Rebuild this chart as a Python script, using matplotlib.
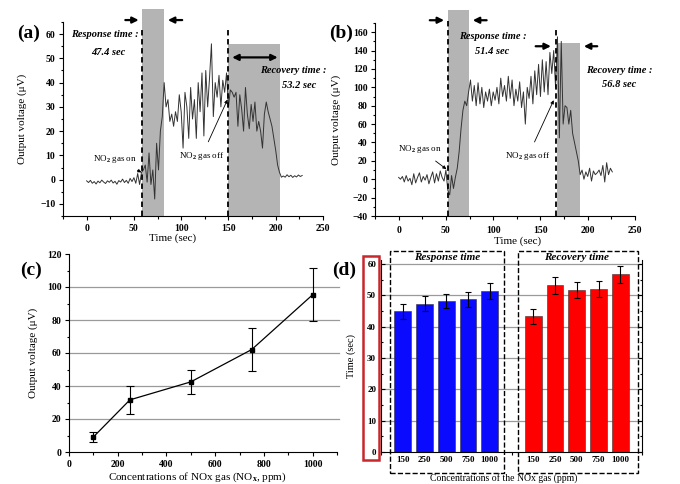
import numpy as np
import matplotlib
matplotlib.use('Agg')
import matplotlib.pyplot as plt
from matplotlib.patches import Rectangle
from matplotlib.ticker import MultipleLocator

plt.rcParams['font.family'] = ['Liberation Serif', 'DejaVu Serif']
plt.rcParams['font.weight'] = 'bold'
plt.rcParams['mathtext.fontset'] = 'custom'
plt.rcParams['mathtext.rm'] = 'Liberation Serif'
plt.rcParams['mathtext.it'] = 'Liberation Serif:italic'
plt.rcParams['mathtext.bf'] = 'Liberation Serif:bold'

# ---- data ----
# (a) 47.4 sec response, 2 s sampling
time_a = np.arange(0, 230, 2)
volt_a = [-0.5, -1.2, -0.3, -1.5, -0.8, -1.8, -0.6, -1.3, -0.2, -1.0, -1.6, -0.5, -1.1,
          -0.2, -1.4, -0.7, -1.9, -0.4, -1.0, 0.2, -1.2, -0.3, -1.5, 0.5, -0.8, 0.8,
          -1.5, 2.5, -2.0, 3.0,
          4.0, 6.0, -1.0, 11.0, -2.0, 4.0, -8.0, 15.0, 4.0, 20.0, 26.0, 40.0,
          30, 33, 24, 27, 22, 28, 24, 35, 28, 13, 36, 30, 17, 38, 25, 33, 17, 40, 28, 44,
          18, 45, 30, 42, 56, 26, 40, 34, 43, 30, 41, 36, 44, 30,
          37, 36, 34, 36, 22, 35, 29, 20, 38, 27, 21, 31, 24, 32, 20, 24, 20, 13, 27, 32,
          28, 25, 22, 17, 12, 6, 3, 1,
          1.5, 1.0, 2.0, 1.2, 1.8, 0.9, 1.6, 1.1, 1.9, 1.3, 1.7]
# (b) 51.4 sec response
time_b = np.arange(0, 228, 2)
volt_b = [2, 0, 3, -3, 4, -2, 1, -6, 6, -4, 2, 7, -3, 3, -1, 5, -5, 2, 8, -4, 6, -2, 9, 2,
          -2, 10, -12, -17, 4, -10,
          2, 12, 30, 55, 75, 85, 80, 95, 108,
          85, 102, 80, 105, 82, 100, 78, 95, 85, 98, 80, 95, 86, 100, 82, 110, 90, 102, 85,
          112, 88, 108, 80, 98, 85, 106, 78, 95, 60, 100, 88, 112, 82, 118, 92, 125, 90,
          130, 95, 128, 92, 138,
          115, 140, 100,
          155, 45, 150, 60, 80, 78, 60, 75, 50, 40, 30, 20, 5,
          10, 0, 8, 3, 12, -2, 9, 5, 7, 10, 4, 15, -3, 18, 5, 12, 8]

# (c)
conc_c = [100, 250, 500, 750, 1000]
volt_c = [9.1, 31.6, 42.5, 62.1, 95.3]
err_c = [3.2, 8.3, 7.5, 13.0, 16.1]

# (d)
conc_labels = ['150', '250', '500', '750', '1000']
resp_time = [44.9, 47.3, 48.3, 48.8, 51.4]
resp_err = [2.4, 2.4, 2.3, 2.4, 2.4]
rec_time = [43.3, 53.2, 51.8, 52.1, 56.7]
rec_err = [2.3, 2.6, 2.6, 2.6, 2.8]

W, H = 680, 484
fig = plt.figure(figsize=(6.8, 4.84), dpi=100)


def fx(px):
    return px / W


def fy(py):
    return (H - py) / H


def style_ax(ax, tsize=7):
    ax.spines['top'].set_visible(False)
    ax.spines['right'].set_visible(False)
    ax.tick_params(which='both', direction='out', labelsize=tsize, width=0.8, pad=2.5)
    ax.tick_params(which='major', length=3)
    ax.tick_params(which='minor', length=1.8)


# ---------- (a) ----------
axa = fig.add_axes([fx(63), fy(216), fx(323 - 63), (216 - 22) / H])
style_ax(axa)
axa.set_xlim(-25, 250)
axa.set_ylim(-15, 65)
axa.xaxis.set_major_locator(MultipleLocator(50))
axa.xaxis.set_minor_locator(MultipleLocator(25))
axa.yaxis.set_major_locator(MultipleLocator(10))
axa.yaxis.set_minor_locator(MultipleLocator(5))
axa.add_patch(Rectangle((59, -15), 23, 85.5, facecolor='#b4b4b4', edgecolor='none',
                        clip_on=False, zorder=1))
axa.add_patch(Rectangle((150, -15), 55, 71, facecolor='#b4b4b4', edgecolor='none',
                        clip_on=False, zorder=1))
axa.plot(time_a, volt_a, color='#333333', lw=0.7, zorder=3)
axa.plot([59, 59], [-15, 62], 'k--', lw=1.3, dashes=(3, 2), clip_on=False, zorder=4)
axa.plot([150, 150], [-15, 62], 'k--', lw=1.3, dashes=(3, 2), clip_on=False, zorder=4)
ap = dict(arrowstyle='-|>', lw=1.6, color='k', mutation_scale=9)
axa.annotate('', xy=(58, 65.8), xytext=(38, 65.8), arrowprops=ap, annotation_clip=False)
axa.annotate('', xy=(83, 65.8), xytext=(104, 65.8), arrowprops=ap, annotation_clip=False)
axa.annotate('', xy=(205, 50.4), xytext=(151, 50.4),
             arrowprops=dict(arrowstyle='<|-|>', lw=1.6, color='k', mutation_scale=9))
axa.text(19, 60, 'Response time :', style='italic', fontsize=7.5, ha='center', va='center')
axa.text(23, 52.5, '47.4 sec', style='italic', fontsize=7.5, ha='center', va='center')
axa.text(219, 45, 'Recovery time :', style='italic', fontsize=7.5, ha='center', va='center')
axa.text(225, 39, '53.2 sec', style='italic', fontsize=7.5, ha='center', va='center')
axa.annotate('NO$_2$ gas on', xy=(58, 3), xytext=(30, 8.5), fontsize=6.5, weight='normal',
             ha='center', va='center',
             arrowprops=dict(arrowstyle='-|>', lw=0.6, color='k', mutation_scale=5,
                             shrinkA=4, shrinkB=0))
axa.annotate('NO$_2$ gas off', xy=(149, 33), xytext=(122, 9.9), fontsize=6.5, weight='normal',
             ha='center', va='center',
             arrowprops=dict(arrowstyle='-|>', lw=0.6, color='k', mutation_scale=5,
                             shrinkA=4, shrinkB=0))
axa.set_xlabel('Time (sec)', fontsize=8)
axa.set_ylabel('Output voltage (μV)', fontsize=8)
axa.xaxis.set_label_coords(0.42, -0.09)
axa.yaxis.set_label_coords(-0.14, 0.5)

# ---------- (b) ----------
axb = fig.add_axes([fx(375), fy(216), fx(635 - 375), (216 - 23) / H])
style_ax(axb)
axb.tick_params(axis='x', which='both', pad=4.5)
axb.set_xlim(-25, 250)
axb.set_ylim(-40, 170)
axb.xaxis.set_major_locator(MultipleLocator(50))
axb.xaxis.set_minor_locator(MultipleLocator(25))
axb.yaxis.set_major_locator(MultipleLocator(20))
axb.yaxis.set_minor_locator(MultipleLocator(10))
axb.add_patch(Rectangle((52, -40), 22.6, 224, facecolor='#b4b4b4', edgecolor='none',
                        clip_on=False, zorder=1))
axb.add_patch(Rectangle((167, -40), 25, 188, facecolor='#b4b4b4', edgecolor='none',
                        clip_on=False, zorder=1))
axb.plot(time_b, volt_b, color='#333333', lw=0.7, zorder=3)
axb.plot([52, 52], [-40, 173], 'k--', lw=1.3, dashes=(3, 2), clip_on=False, zorder=4)
axb.plot([166, 166], [-40, 164], 'k--', lw=1.3, dashes=(3, 2), clip_on=False, zorder=4)
axb.annotate('', xy=(51, 173), xytext=(30, 173), arrowprops=ap, annotation_clip=False)
axb.annotate('', xy=(75.5, 173), xytext=(96, 173), arrowprops=ap, annotation_clip=False)
axb.annotate('', xy=(164, 144.7), xytext=(142, 144.7), arrowprops=ap, annotation_clip=False)
axb.annotate('', xy=(193, 144.7), xytext=(213, 144.7), arrowprops=ap, annotation_clip=False)
axb.text(100, 155.6, 'Response time :', style='italic', fontsize=7.5, ha='center', va='center')
axb.text(99, 139, '51.4 sec', style='italic', fontsize=7.5, ha='center', va='center')
axb.text(233, 118.5, 'Recovery time :', style='italic', fontsize=7.5, ha='center', va='center')
axb.text(233, 103, '56.8 sec', style='italic', fontsize=7.5, ha='center', va='center')
axb.annotate('NO$_2$ gas on', xy=(50.5, 11), xytext=(22, 33), fontsize=6.5, weight='normal',
             ha='center', va='center',
             arrowprops=dict(arrowstyle='-|>', lw=0.6, color='k', mutation_scale=5,
                             shrinkA=4, shrinkB=0))
axb.annotate('NO$_2$ gas off', xy=(164, 86), xytext=(137, 25.5), fontsize=6.5, weight='normal',
             ha='center', va='center',
             arrowprops=dict(arrowstyle='-|>', lw=0.6, color='k', mutation_scale=5,
                             shrinkA=4, shrinkB=0))
axb.set_xlabel('Time (sec)', fontsize=8)
axb.set_ylabel('Output voltage (μV)', fontsize=8)
axb.xaxis.set_label_coords(0.55, -0.105)
axb.yaxis.set_label_coords(-0.13, 0.5)

# ---------- (c) ----------
axc = fig.add_axes([fx(69), fy(452), fx(337 - 69), (452 - 254) / H])
style_ax(axc)
axc.set_xlim(0, 1100)
axc.set_ylim(0, 120)
axc.xaxis.set_major_locator(MultipleLocator(200))
axc.xaxis.set_minor_locator(MultipleLocator(100))
axc.yaxis.set_major_locator(MultipleLocator(20))
axc.yaxis.set_minor_locator(MultipleLocator(10))
for g in [20, 40, 60, 80, 100]:
    axc.plot([0, 1110], [g, g], color='#9a9a9a', lw=0.9, clip_on=False, zorder=0)
axc.errorbar(conc_c, volt_c, yerr=err_c, fmt='s-', color='k', ms=3.5, lw=0.9,
             elinewidth=0.8, capsize=3, capthick=0.8, zorder=3)
axc.set_xlabel('Concentrations of NOx gas (NO$_{\\mathrm{x}}$, ppm)', fontsize=8)
axc.set_ylabel('Output voltage (μV)', fontsize=8)
axc.xaxis.set_label_coords(0.48, -0.092)
axc.yaxis.set_label_coords(-0.115, 0.5)

# ---------- (d) ----------
axd = fig.add_axes([fx(381), fy(452), fx(642 - 381), (452 - 260) / H])
axd.spines['top'].set_visible(False)
axd.set_xlim(0, 12)
axd.set_ylim(0, 61.3)
pos_resp = np.arange(1, 6)
pos_rec = np.arange(7, 12)
axd.yaxis.set_major_locator(MultipleLocator(10))
axd.yaxis.set_minor_locator(MultipleLocator(5))
for g in [10, 20, 30, 40, 50, 60]:
    axd.axhline(g, color='#9a9a9a', lw=0.9, zorder=0)
axd.bar(pos_resp, resp_time, width=0.78, color='#0a0aff', edgecolor='#333333', lw=0.4,
        yerr=resp_err, capsize=2, error_kw=dict(elinewidth=0.8, capthick=0.8, ecolor='k'),
        zorder=2)
axd.bar(pos_rec, rec_time, width=0.78, color='#ff0000', edgecolor='#333333', lw=0.4,
        yerr=rec_err, capsize=2, error_kw=dict(elinewidth=0.8, capthick=0.8, ecolor='k'),
        zorder=2)
axd.set_xticks(list(pos_resp) + list(pos_rec))
axd.set_xticklabels(conc_labels + conc_labels)
axd.xaxis.set_minor_locator(MultipleLocator(1.0))
axd.tick_params(which='both', direction='out', labelsize=6.5, width=0.8, right=True)
axd.tick_params(axis='y', which='both', direction='in', right=True)
axd.tick_params(axis='y', which='major', length=3)
axd.tick_params(axis='y', which='minor', length=1.5)
axd.tick_params(axis='x', which='major', length=0, pad=3)
axd.tick_params(axis='x', which='minor', length=2.5)
axd.set_ylabel('Time (sec)', fontsize=7.5)
axd.yaxis.set_label_coords(-0.096, 0.5)
axd.set_xlabel('Concentrations of the NOx gas (ppm)', fontsize=7, weight='normal')
axd.xaxis.set_label_coords(0.47, -0.112)

# dashed group boxes and the red box around the y tick labels
for x0, x1 in [(390, 504), (518, 638)]:
    fig.add_artist(Rectangle((fx(x0), fy(473)), fx(x1 - x0), (473 - 251) / H,
                             fill=False, ls='--', lw=1.0, ec='k'))
fig.add_artist(Rectangle((fx(363), fy(460)), fx(379 - 363), (460 - 256) / H,
                         fill=False, lw=1.8, ec='#c8282d'))
fig.text(fx(447), fy(258), 'Response time', style='italic', fontsize=8, ha='center',
         va='center')
fig.text(fx(577), fy(258), 'Recovery time', style='italic', fontsize=8, ha='center',
         va='center')

# panel letters
for lx, ly, s in [(17, 33, '(a)'), (329, 33, '(b)'), (20, 270, '(c)'), (332, 270, '(d)')]:
    fig.text(fx(lx), fy(ly), s, fontsize=14, ha='left', va='center')

fig.savefig('out.png', dpi=100)
